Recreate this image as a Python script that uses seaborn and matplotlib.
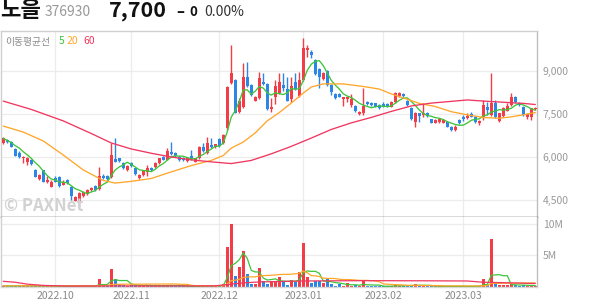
import numpy as np
import pandas as pd
import matplotlib
matplotlib.use("Agg")
import matplotlib.pyplot as plt
import seaborn as sns

# ---------------- data ----------------
opens = [6480, 6590, 6530, 6280, 6140, 5950, 5830, 5900, 5550, 5230, 5550, 5140, 4960, 5270, 5300, 5040, 5200, 4950, 4480, 4440,
         4650, 4710, 4850, 4990, 4870, 5350, 5320, 5290, 5920, 5950, 5790, 5550, 5780, 5610, 5270, 5360, 5490, 5620, 5640, 5800,
         6000, 5910, 6170, 6140, 6010, 5980, 5860, 6030, 5840, 5960, 6340, 6130, 6420, 6360, 6620, 6480, 7000, 8570, 8690, 7580,
         7730, 8800, 8510, 7960, 8050, 8630, 8550, 7660, 8090, 8220, 8510, 8370, 8020, 8620, 8130, 8690, 9720, 9660, 9380, 9070,
         8720, 8990, 8500, 8210, 8210, 8030, 8030, 7800, 7780, 7510, 7550, 7930, 7890, 7870, 7810, 7840, 7850, 7760, 7930, 8130,
         8200, 7960, 7700, 7230, 7520, 7470, 7550, 7320, 7200, 7230, 7200, 7230, 7060, 6940, 7290, 7410, 7350, 7490, 7410, 7180,
         7350, 7760, 7470, 7890, 7260, 7430, 7620, 7810, 8100, 7890, 7760, 7410, 7390, 7680]
highs = [6700, 6630, 6560, 6310, 6210, 6030, 6000, 5930, 5580, 5410, 5560, 5340, 5200, 5340, 5340, 5180, 5220, 4990, 4640, 4780,
         4810, 4880, 4970, 5020, 5660, 5390, 5360, 6480, 6660, 5980, 5830, 5720, 5810, 5630, 5410, 5550, 5720, 5650, 5830, 5980,
         6030, 6300, 6530, 6170, 6030, 6000, 6000, 6240, 5980, 6380, 6480, 6690, 6650, 6450, 6650, 6800, 8480, 9910, 8720, 8060,
         9270, 9320, 8550, 8130, 8980, 8920, 8580, 8060, 8690, 8940, 8920, 8790, 8790, 8940, 8970, 10150, 9900, 9720, 9420, 9100,
         8950, 9020, 8530, 8230, 8230, 8110, 8110, 8210, 7810, 7590, 8420, 7950, 7920, 7900, 7850, 7930, 7880, 7950, 8280, 8280,
         8220, 7990, 7730, 7570, 7550, 7870, 7570, 7340, 7330, 7340, 7330, 7260, 7080, 7120, 7330, 7470, 7550, 7580, 7430, 7290,
         7990, 7930, 8920, 7990, 7550, 7730, 7870, 8240, 8130, 7920, 7780, 7520, 7700, 7750]
lows = [6440, 6490, 6350, 6030, 5970, 5790, 5720, 5720, 5290, 5200, 5130, 5090, 4940, 5110, 4950, 5020, 5060, 4500, 4450, 4270,
        4620, 4670, 4810, 4810, 4850, 5230, 5180, 5250, 5810, 5830, 5580, 5510, 5650, 5360, 5230, 5320, 5340, 5510, 5620, 5770,
        5880, 5880, 6070, 6000, 5860, 5860, 5830, 5900, 5810, 5930, 6190, 6100, 6330, 6330, 6350, 6450, 6940, 8550, 7520, 7550,
        7710, 8440, 8130, 7940, 8020, 8510, 7640, 7570, 7850, 8180, 8290, 7940, 7920, 8350, 8090, 8650, 9490, 9440, 8860, 8390,
        8690, 8480, 8160, 8020, 8080, 7780, 7920, 7740, 7570, 7480, 7470, 7810, 7780, 7730, 7670, 7730, 7730, 7730, 7900, 8090,
        8090, 7780, 7290, 7060, 7230, 7390, 7400, 7170, 7170, 7200, 7170, 7030, 6910, 6910, 7150, 7270, 7330, 7380, 7200, 7120,
        7290, 7470, 7430, 7350, 7220, 7400, 7590, 7780, 7900, 7780, 7430, 7320, 7290, 7650]
closes = [6650, 6510, 6360, 6050, 6000, 6000, 5970, 5760, 5300, 5370, 5140, 5200, 5140, 5140, 4990, 5140, 5090, 4640, 4600, 4740,
          4780, 4850, 4920, 4850, 5340, 5270, 5220, 6070, 5840, 5860, 5620, 5690, 5690, 5390, 5370, 5510, 5620, 5550, 5800, 5960,
          5910, 6210, 6100, 6030, 5900, 5900, 5970, 5920, 5960, 6360, 6220, 6480, 6360, 6440, 6380, 6770, 8450, 8920, 7550, 7960,
          8800, 8480, 8160, 8080, 8750, 8550, 7660, 7760, 8480, 8600, 8390, 7970, 8480, 8380, 8670, 9790, 9790, 9550, 8890, 8790,
          8920, 8500, 8270, 8060, 8110, 8090, 8090, 8030, 7590, 7570, 7780, 7840, 7810, 7760, 7700, 7760, 7760, 7930, 8220, 8220,
          8130, 7810, 7320, 7520, 7430, 7520, 7430, 7200, 7290, 7320, 7290, 7060, 6940, 7060, 7180, 7320, 7430, 7410, 7230, 7260,
          7810, 7640, 7890, 7410, 7520, 7700, 7780, 8080, 7930, 7810, 7470, 7490, 7700, 7700]
volumes_m = [0.2, 0.15, 0.2, 0.25, 0.2, 0.15, 0.15, 0.2, 0.25, 0.15, 0.2, 0.15, 0.2, 0.15, 0.2, 0.1, 0.1, 0.3, 0.2, 0.25,
             0.15, 0.15, 0.1, 0.15, 1.2, 0.3, 0.2, 2.9, 1.3, 0.4, 0.3, 0.2, 0.3, 0.3, 0.2, 0.2, 0.3, 0.15, 0.2, 0.25,
             0.15, 0.3, 0.35, 0.15, 0.15, 0.1, 0.1, 0.15, 0.1, 0.2, 0.2, 0.35, 0.2, 0.1, 0.15, 0.45, 6.3, 10.0, 1.7, 3.1,
             5.7, 2.1, 0.5, 0.5, 3.0, 1.0, 0.5, 0.9, 1.0, 1.5, 0.8, 0.3, 1.1, 0.8, 2.4, 6.9, 1.5, 0.7, 0.9, 0.9,
             0.7, 1.2, 0.5, 0.2, 0.5, 0.2, 0.6, 0.2, 0.25, 0.15, 0.9, 0.2, 0.15, 0.1, 0.15, 0.1, 0.1, 0.2, 0.3, 0.2,
             0.15, 0.2, 0.3, 0.5, 0.2, 0.2, 0.15, 0.15, 0.1, 0.1, 0.1, 0.15, 0.15, 0.1, 0.1, 0.1, 0.1, 0.1, 0.15, 0.15,
             1.2, 0.3, 7.5, 0.4, 0.35, 0.35, 0.35, 0.4, 0.25, 0.2, 0.3, 0.2, 0.25, 0.15]

# moving-average lines (index, value)
ma20_idx = [0, 5, 10, 15, 20, 25, 28, 32, 37, 42, 47, 52, 55, 57, 60, 63, 66, 69, 72, 75, 77, 80, 85, 90, 94, 97, 100, 104, 108, 112, 116, 120, 124, 127, 130, 133]
ma20_val = [7080, 6870, 6560, 6070, 5550, 5180, 5090, 5150, 5250, 5480, 5700, 5880, 6050, 6310, 6520, 6840, 7260, 7550, 7880, 8230, 8440, 8550, 8550, 8460, 8370, 8200, 8060, 7870, 7760, 7580, 7470, 7380, 7350, 7400, 7470, 7550]
ma60_idx = [0, 7, 15, 22, 27, 32, 37, 42, 47, 52, 57, 62, 67, 72, 77, 82, 87, 92, 97, 102, 107, 112, 116, 120, 125, 130, 133]
ma60_val = [7950, 7660, 7260, 6820, 6490, 6280, 6130, 6000, 5900, 5830, 5770, 5880, 6110, 6370, 6660, 6960, 7190, 7380, 7590, 7780, 7880, 7940, 7990, 7950, 7910, 7870, 7830]
vma60_idx = [0, 3, 6, 10, 16, 30, 45, 53, 57, 60, 64, 70, 75, 90, 105, 116, 120, 125, 130, 133]
vma60_val = [0.9, 0.75, 0.45, 0.25, 0.15, 0.17, 0.17, 0.18, 0.45, 0.65, 0.8, 0.88, 0.95, 1.0, 0.98, 0.95, 0.75, 0.68, 0.6, 0.55]

month_idx = [13, 32, 54, 75, 95, 115]
month_labels = ["2022.10", "2022.11", "2022.12", "2023.01", "2023.02", "2023.03"]
price_ticks = [4500, 6000, 7500, 9000]
vol_ticks = [5, 10]
vol_tick_labels = ["5M", "10M"]

# ---------------- style ----------------
sns.set_theme(style="white")
plt.rcParams["font.family"] = ["Noto Sans CJK KR", "DejaVu Sans"]

RED = "#f23d48"
BLUE = "#2b86e6"
GREEN = "#3ec43a"
ORANGE = "#ffa62b"
PINK = "#f0365f"
GRID = "#ececec"
TXT = "#999999"

W, H = 594, 304
fig = plt.figure(figsize=(W / 100, H / 100), dpi=100)

def box(x0, y0, x1, y1):
    return [x0 / W, 1 - y1 / H, (x1 - x0) / W, (y1 - y0) / H]

axp = fig.add_axes(box(1, 31, 537.3, 217.3))
axv = fig.add_axes(box(1, 217.3, 537.3, 287), sharex=axp)

df = pd.DataFrame({"o": opens, "h": highs, "l": lows, "c": closes, "v": volumes_m})
df["i"] = np.arange(len(df))
df["up"] = df["c"] >= df["o"]
df["col"] = np.where(df["up"], RED, BLUE)
df["ma5"] = df["c"].rolling(5, min_periods=1).mean()
df["vma5"] = df["v"].rolling(5, min_periods=1).mean()
df["vma20"] = df["v"].rolling(20, min_periods=1).mean()

# grid
for ax in (axp, axv):
    for m in month_idx:
        ax.axvline(m, color=GRID, lw=0.9, zorder=0)
for t in price_ticks:
    axp.axhline(t, color=GRID, lw=0.9, zorder=0)
for t in vol_ticks:
    axv.axhline(t, color=GRID, lw=0.9, zorder=0)

# candles
axp.vlines(df["i"], df["l"], df["h"], colors=df["col"], lw=1.0, zorder=2)
body_bottom = np.minimum(df["o"], df["c"])
body_h = np.maximum(np.abs(df["c"] - df["o"]), 25)
axp.bar(df["i"], body_h, bottom=body_bottom, width=0.72, color=df["col"], linewidth=0, zorder=3)

# moving averages
sns.lineplot(x=df["i"], y=df["ma5"], ax=axp, color=GREEN, lw=0.95, zorder=4)
sns.lineplot(x=ma20_idx, y=ma20_val, ax=axp, color=ORANGE, lw=0.95, zorder=4)
sns.lineplot(x=ma60_idx, y=ma60_val, ax=axp, color=PINK, lw=0.95, zorder=4)

# volume
axv.bar(df["i"], df["v"], width=0.72, color=df["col"], linewidth=0, zorder=2)
sns.lineplot(x=df["i"], y=df["vma5"], ax=axv, color=GREEN, lw=0.9, zorder=3)
sns.lineplot(x=df["i"], y=df["vma20"], ax=axv, color=ORANGE, lw=0.9, zorder=3)
sns.lineplot(x=vma60_idx, y=vma60_val, ax=axv, color=PINK, lw=0.9, zorder=3)

# axes limits
axp.set_xlim(-0.55, 133.5)
axp.set_ylim(3896, 10395)
axv.set_ylim(0, 11.0)

# ticks
axp.yaxis.tick_right()
axp.set_yticks(price_ticks)
axp.set_yticklabels([f"{t:,}" for t in price_ticks])
axv.yaxis.tick_right()
axv.set_yticks(vol_ticks)
axv.set_yticklabels(vol_tick_labels)
for ax in (axp, axv):
    ax.tick_params(axis="y", length=0, pad=4, labelsize=7.5, labelcolor=TXT)
    ax.set_xlabel("")
    ax.set_ylabel("")
axp.tick_params(axis="x", length=0, labelbottom=False)
axv.set_xticks(month_idx)
axv.set_xticklabels(month_labels)
axv.tick_params(axis="x", length=0, pad=3, labelsize=7.5, labelcolor="#888888")

# spines
for ax in (axp, axv):
    ax.spines["left"].set_color("#d0d0d0")
    ax.spines["right"].set_color("#bdbdbd")
    for s in ax.spines.values():
        s.set_linewidth(1.0)
axp.spines["top"].set_color("#d0d0d0")
axp.spines["bottom"].set_color("#444444")
axv.spines["top"].set_visible(False)
axv.spines["bottom"].set_color("#d8d8d8")

# header
def ftxt(x, y, s, **kw):
    fig.text(x / W, 1 - y / H, s, va="center", ha="left", **kw)

ftxt(0, 10.5, "노을", fontsize=16, fontweight="bold", color="#111111")
ftxt(45, 11.5, "376930", fontsize=10, color="#999999")
ftxt(109, 10.5, "7,700", fontsize=15.5, fontweight="bold", color="#111111")
ftxt(176, 12, "–", fontsize=10.5, fontweight="bold", color="#111111")
ftxt(189, 12.5, "0", fontsize=9.5, fontweight="bold", color="#111111")
ftxt(204, 12, "0.00%", fontsize=10, color="#333333")

# MA legend
ftxt(5, 41.5, "이동평균선", fontsize=7, color="#8a8a8a")
ftxt(59, 41.5, "5", fontsize=7.5, color=GREEN)
ftxt(67, 41.5, "20", fontsize=7.5, color=ORANGE)
ftxt(83, 41.5, "60", fontsize=7.5, color=PINK)

# watermark
ftxt(4, 206, "© PAXNet", fontsize=12, fontweight="bold", color="#d2d2d2")

fig.savefig("out.png", dpi=100)
